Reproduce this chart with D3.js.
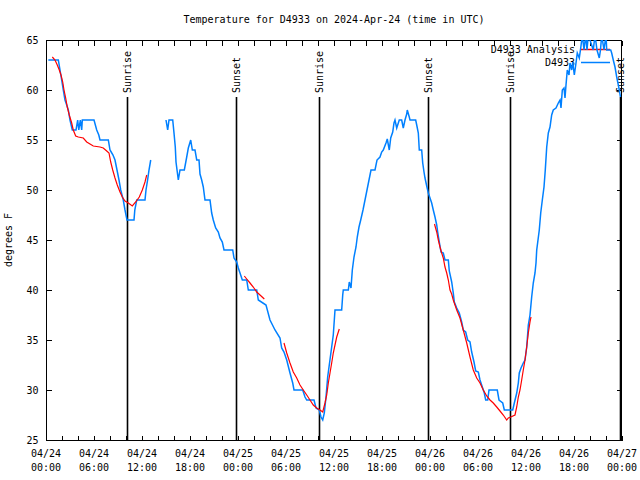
<!DOCTYPE html>
<html><head><meta charset="utf-8">
<script src="https://cdn.jsdelivr.net/npm/d3@7"></script>
<style>
body{margin:0;background:#fff;}
svg{display:block;}
text{font-family:"DejaVu Sans Mono",monospace;font-size:10px;fill:#000;}
</style></head><body>
<svg id="c" width="640" height="480"></svg>
<script>
// ---------- data (hours since 2024-04-24 00:00 UTC) ----------
const titleText = "Temperature for D4933 on 2024-Apr-24 (time in UTC)";
const yLabel = "degrees F";
const obsName = "D4933";
const anaName = "D4933 Analysis";

const obsHours = [0.29,1.54,1.75,1.96,2.16,2.375,2.59,2.79,3.0,3.29,3.75,3.96,4.1,4.29,4.46,4.54,6.0,6.34,6.6,6.75,7.79,8.0,8.375,8.625,8.875,9.125,9.34,9.66,9.875,10.125,11.0,11.1,11.34,12.375,12.5,12.7,12.875,13.09,
 14.0,
 15.0,15.21,15.375,15.84,16.0,16.16,16.25,16.41,16.54,16.75,17.29,17.59,17.79,18.09,18.29,18.625,18.84,19.125,19.25,19.46,19.66,19.875,20.5,20.71,20.91,21.21,21.54,21.75,22.04,22.25,23.34,23.5,23.84,24.04,24.25,24.54,25.09,25.29,26.34,26.54,27.5,28.0,28.625,29.25,29.46,29.75,30.09,30.5,30.84,31.0,32.09,32.375,32.59,33.5,33.75,34.16,34.375,34.59,34.79,35.0,35.21,35.41,35.71,35.91,36.125,36.96,37.09,37.16,37.79,37.91,38.125,38.29,38.5,38.75,38.91,39.125,39.34,39.625,39.875,40.125,40.375,40.625,41.125,41.375,41.75,41.96,42.16,42.5,42.66,42.91,43.09,43.34,43.5,43.625,43.84,44.04,44.16,44.46,44.66,44.875,45.09,45.16,45.41,45.5,46.21,46.34,46.54,46.66,46.96,47.09,47.25,47.375,47.59,47.79,48.0,48.21,48.41,48.625,48.84,48.96,49.16,49.375,49.66,49.875,50.29,50.41,50.71,50.91,51.04,51.34,51.66,51.96,52.16,52.46,52.71,53.0,53.21,53.5,53.71,54.04,54.25,54.54,54.79,54.96,55.21,55.375,56.41,56.625,57.09,57.29,58.34,58.54,58.84,59.04,59.16,59.375,59.66,59.875,60.09,60.29,60.5,60.71,60.91,61.125,61.25,61.34,61.66,61.84,62.04,62.25,62.41,62.59,62.79,63.0,63.21,63.41,63.75,64.04,64.25,64.375,64.54,64.75,64.875,65.0,65.16,65.375,65.5,65.71,65.84,66.04,66.25,66.41,66.66,66.84,67.04,67.25,67.46,67.625,67.79,68.41,68.625,68.875,69.16,69.31,69.46,69.75,70.0,70.09,70.59,70.71,70.91,71.125,71.34,71.54,71.66,71.81];
const obsTemps = [63,63,62,61,60,59,58.5,58,57,56,56,57,56,57,56,57,57,56,55.5,55,55,54,53.5,53,52,51,50,49,48,47,47,48,49,49,50,51,52,53,
 null,
 57,56,57,57,55.7,54.3,52.8,51.8,51,52,52,53.3,54.2,55,54,54,53,53,51.6,51,50.3,49,49,47.7,47,46.2,45.8,45.2,44.8,44,44,43.2,42.8,42.2,41.7,41,41,40,40,39,38.5,37,36,35.2,34.2,33.8,33,31.7,30.7,30,30,29.3,29,29,28.2,28,27.3,27,27.7,29.3,31.3,32.5,34.3,35.5,38,38,39.5,40,40,40.8,40.2,42,43.3,44.3,45.3,46.3,47,48,49,50,51,52,52,53,53.3,53.8,54,54.7,55.1,54,55.2,55.8,56.7,57,56.2,56.7,57,57,56.2,57,57.6,58,57.3,57,57,56.5,55.7,54,54,52.7,51.8,51.2,50.4,49.7,49.2,48.7,48,47.3,46.5,45.8,44.8,43.8,43.7,43,43,41.9,40.8,39.7,38.8,38.2,37.7,36.8,36,35.8,35,34.8,33.8,32.8,31.9,31.8,31,30.3,29.7,29,29,30,30,29,28.7,28,28,28.7,29.7,30.7,31.7,32.2,32.7,33,34.3,36.5,37.5,39.3,40.7,41.7,42.7,44,46,47.7,49,50.3,52,54.3,55.7,56.3,57.5,58,58.2,58.7,59,58.2,60,60.2,59.2,60.5,62,61.5,62.7,62,62.8,61.5,62.7,63.7,63.2,64.2,65.5,64,65.5,64,65.5,64,65.5,64,63.2,64,65.5,64,65.5,64,64,63.7,63,62.3,61.3,60.5,60,59.3];

const anaHours = [0.79,1.125,1.41,1.66,1.875,2.09,2.25,2.46,2.66,2.91,3.21,3.41,3.71,4.04,4.66,5.09,5.5,5.91,6.75,7.16,7.59,7.875,8.09,8.34,8.625,8.91,9.25,9.54,9.875,10.29,10.79,11.21,11.66,12.04,12.375,12.59,
 18.0,
 24.79,25.09,25.5,25.91,26.34,26.75,27.29,
 28.5,
 29.75,30.09,30.5,30.91,31.34,31.75,32.16,32.59,33.0,33.41,33.84,34.25,34.59,34.875,35.09,35.29,35.5,35.71,35.91,36.125,36.34,36.66,
 42.0,
 48.56,48.84,49.04,49.25,49.46,49.66,49.875,50.09,50.29,50.5,50.71,50.91,51.34,51.75,52.16,52.59,53.0,53.41,53.84,54.25,54.66,55.09,55.5,55.91,56.34,56.75,57.16,57.59,57.79,58.09,58.625,58.84,59.04,59.25,59.46,59.66,59.875,60.09,60.29,60.5,60.625];
const anaTemps = [63.3,63,62.5,62,61.5,60.8,60,59.2,58.3,57.5,56.7,56,55.4,55.3,55.2,54.8,54.6,54.4,54.3,54.2,53.9,53.7,52.8,52,51.2,50.5,49.8,49.3,48.9,48.7,48.4,48.8,49.3,50,50.8,51.5,
 null,
 41.4,41.1,40.7,40.3,39.8,39.5,39.1,
 null,
 34.7,33.7,32.7,31.8,31.2,30.5,30,29.5,29,28.5,28.2,28,27.8,28.7,29.5,30.7,31.7,32.7,33.7,34.5,35.3,36.1,
 null,
 46.6,45.8,45,44.3,43.7,43.2,42.3,41.7,41,40,39.6,39,38,37.2,36,34.7,33.3,32,31.2,30.7,30,29.4,29,28.7,28.3,27.9,27.5,27,27.2,27.3,27.5,28.3,29.3,30,31,32,33,34.3,35.7,36.8,37.3];

const eventHours = [10.125, 23.75, 34.125, 47.75, 58.05, 71.75];
const eventLabels = ["Sunrise","Sunset","Sunrise","Sunset","Sunrise","Sunset"];
const yTicks = [25,30,35,40,45,50,55,60,65];
const xMajorHours = [0,6,12,18,24,30,36,42,48,54,60,66,72];

// ---------- layout ----------
const svg = d3.select("#c");
const L=46, R=622, T=40, B=440;
const base = Date.UTC(2024,3,24,0,0);
const toDate = h => new Date(base + h*3600e3);
const x = d3.scaleUtc().domain([toDate(0), toDate(72)]).range([L,R]);
const y = d3.scaleLinear().domain([25,65]).range([B,T]);

// title
svg.append("text").attr("x",(L+R)/2).attr("y",23).attr("text-anchor","middle").text(titleText);
// y label
svg.append("text").attr("transform","translate(12,"+((T+B)/2)+") rotate(-90)").attr("text-anchor","middle").text(yLabel);

// frame
svg.append("rect").attr("x",L+0.5).attr("y",T+0.5).attr("width",R-L-1).attr("height",B-T).attr("fill","none").attr("stroke","#000").attr("stroke-width",1);

// y ticks
const yAxisL = d3.axisLeft(y).tickValues(yTicks).tickSize(-5).tickPadding(10).tickFormat(d3.format("d"));
const gy = svg.append("g").attr("transform","translate("+(L+0.5)+",0)").call(yAxisL);
gy.select(".domain").remove();
gy.selectAll("text").attr("font-family","DejaVu Sans Mono").attr("font-size",10).attr("dx","2");
const gyr = svg.append("g").attr("transform","translate("+(R-0.5)+",0)").call(d3.axisRight(y).tickValues(yTicks).tickSize(-5).tickFormat(""));
gyr.select(".domain").remove();

// x ticks (every 2 h) bottom & top
const minorTicks = d3.range(0,73,2).map(toDate);
const gxb = svg.append("g").attr("transform","translate(0,"+(B+0.5)+")").call(d3.axisBottom(x).tickValues(minorTicks).tickSize(-5).tickFormat(""));
gxb.select(".domain").remove();
const gxt = svg.append("g").attr("transform","translate(0,"+(T+0.5)+")").call(d3.axisTop(x).tickValues(minorTicks).tickSize(-5).tickFormat(""));
gxt.select(".domain").remove();
svg.selectAll(".tick line").attr("shape-rendering","crispEdges");

// x labels
const fmtD = d3.utcFormat("%m/%d"), fmtT = d3.utcFormat("%H:%M");
const xl = svg.append("g").selectAll("g").data(xMajorHours.map(toDate)).join("g")
  .attr("transform",d=>"translate("+x(d)+",0)");
xl.append("text").attr("y",457).attr("text-anchor","middle").text(d=>fmtD(d));
xl.append("text").attr("y",471).attr("text-anchor","middle").text(d=>fmtT(d));

// legend
svg.append("text").attr("x",575).attr("y",53).attr("text-anchor","end").text(anaName);
svg.append("text").attr("x",575).attr("y",66).attr("text-anchor","end").text(obsName);
svg.append("line").attr("x1",581).attr("x2",610).attr("y1",49.5).attr("y2",49.5).attr("stroke","#ff0000").attr("stroke-width",1.5);
svg.append("line").attr("x1",581).attr("x2",610).attr("y1",62.5).attr("y2",62.5).attr("stroke","#0080ff").attr("stroke-width",1.5);

// sunrise / sunset
const ev = svg.append("g").selectAll("g").data(eventHours.map((h,i)=>({d:toDate(h),l:eventLabels[i]}))).join("g");
ev.append("line").attr("x1",d=>Math.round(x(d.d))+0.5).attr("x2",d=>Math.round(x(d.d))+0.5).attr("y1",97).attr("y2",B)
  .attr("stroke","#000").attr("stroke-width",1.6);
ev.append("text").attr("transform",d=>"translate("+(Math.round(x(d.d))+4)+",93) rotate(-90)").attr("text-anchor","start").text(d=>d.l);

// clip
svg.append("clipPath").attr("id","clip").append("rect").attr("x",L).attr("y",T).attr("width",R-L).attr("height",B-T);

// data lines
const obs = obsHours.map((h,i)=>({d:toDate(h),v:obsTemps[i]}));
const ana = anaHours.map((h,i)=>({d:toDate(h),v:anaTemps[i]}));
const line = d3.line().defined(d=>d.v!==null).x(d=>x(d.d)).y(d=>y(d.v));
svg.append("path").datum(obs).attr("clip-path","url(#clip)").attr("d",line).attr("fill","none").attr("stroke","#0080ff").attr("stroke-width",1.5);
svg.append("path").datum(ana).attr("clip-path","url(#clip)").attr("d",line).attr("fill","none").attr("stroke","#ff0000").attr("stroke-width",1.2);
</script>
</body></html>
